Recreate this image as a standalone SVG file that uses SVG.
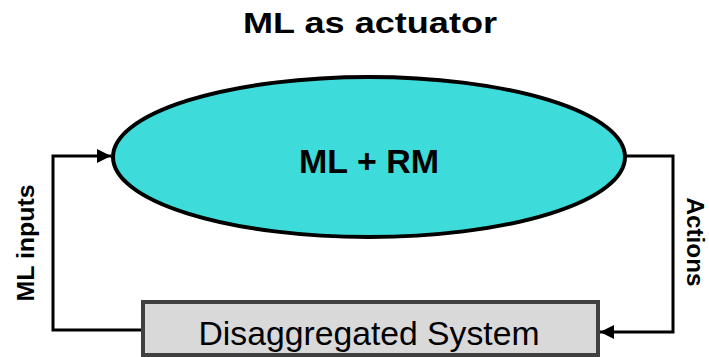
<svg xmlns="http://www.w3.org/2000/svg" width="709" height="357" viewBox="0 0 709 357">
<defs>
<style>
.t{font-family:"Liberation Sans","DejaVu Sans",Arial,sans-serif;fill:#000}
.b{font-weight:bold}
.c{fill:none;stroke:#000;stroke-width:3}
</style>
<marker id="ah" viewBox="0 0 14 14" refX="14" refY="7" markerWidth="14" markerHeight="14" markerUnits="userSpaceOnUse" orient="auto">
<path d="M0,0 L14,7 L0,14 Z" fill="#000"/>
</marker>
</defs>
<rect width="709" height="357" fill="#fff"/>
<text id="title" class="t b" x="370" y="33" font-size="29" text-anchor="middle" textLength="254" lengthAdjust="spacingAndGlyphs">ML as actuator</text>
<g id="connectors">
<path class="c" d="M142,330 H53 V156 H111" marker-end="url(#ah)"/>
<path class="c" d="M626,156 H673 V332 H600" marker-end="url(#ah)"/>
<text class="t b" transform="translate(34,243) rotate(-90)" font-size="23" text-anchor="middle" textLength="117" lengthAdjust="spacingAndGlyphs">ML inputs</text>
<text class="t b" transform="translate(687,242) rotate(90)" font-size="23" text-anchor="middle" textLength="89" lengthAdjust="spacingAndGlyphs">Actions</text>
</g>
<g id="ml-rm">
<ellipse cx="369" cy="157" rx="256" ry="80" fill="#3ddbd9" stroke="#000" stroke-width="4"/>
<text class="t b" x="369" y="173" font-size="33" text-anchor="middle" textLength="140" lengthAdjust="spacingAndGlyphs">ML + RM</text>
</g>
<g id="system">
<rect x="143" y="302" width="455" height="53" fill="#d9d9d9" stroke="#404040" stroke-width="4"/>
<text class="t" x="369" y="345" font-size="33" text-anchor="middle" textLength="341" lengthAdjust="spacingAndGlyphs">Disaggregated System</text>
</g>
</svg>
